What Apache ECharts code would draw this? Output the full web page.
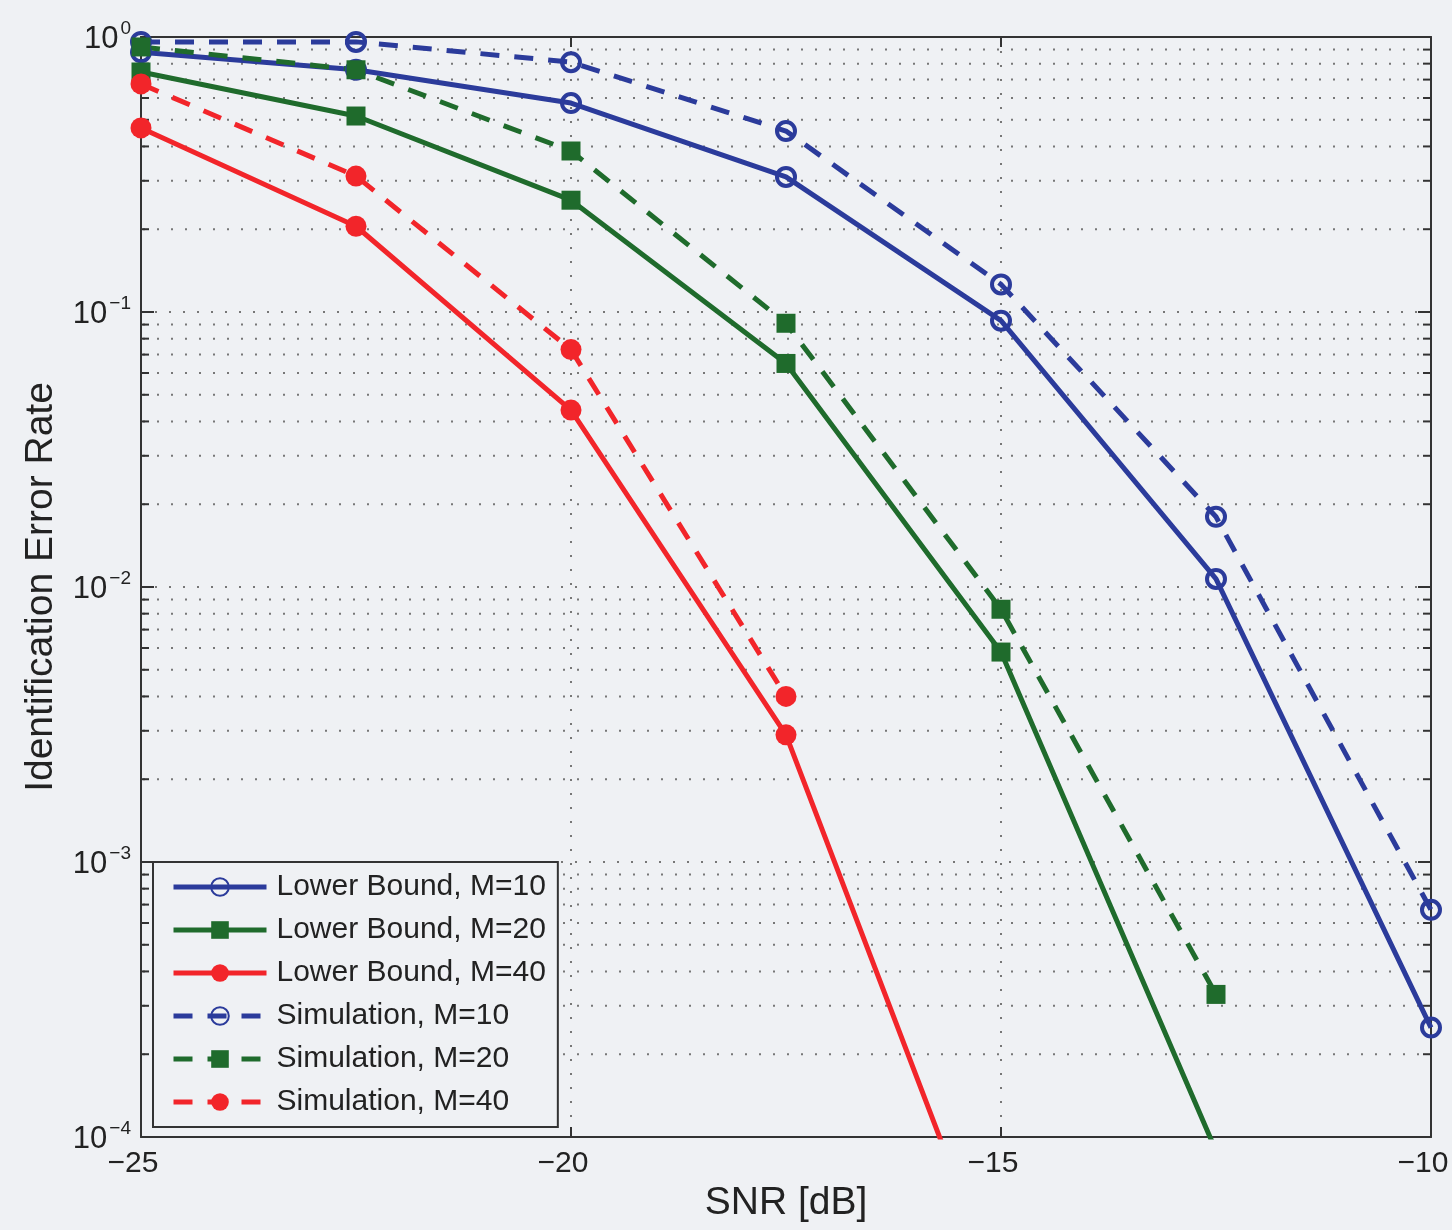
<!DOCTYPE html>
<html>
<head>
<meta charset="utf-8">
<script src="https://cdn.jsdelivr.net/npm/echarts@6/dist/echarts.min.js"></script>
<style>
html,body{margin:0;padding:0;background:#eff1f4;overflow:hidden;}
#chart{width:1452px;height:1230px;}
</style>
</head>
<body>
<div id="chart"></div>
<script>
// ---- data ----
const snr = [-25, -22.5, -20, -17.5, -15, -12.5, -10];
const lowerBoundM10 = [0.88, 0.76, 0.575, 0.31, 0.093, 0.0107, 2.5e-4];
const lowerBoundM20 = [0.746, 0.516, 0.255, 0.065, 0.0058, 8.9e-5, null];
const lowerBoundM40 = [0.467, 0.205, 0.044, 0.0029, 2.6e-5, null, null];
const simulationM10 = [0.96, 0.96, 0.81, 0.455, 0.126, 0.018, 6.7e-4];
const simulationM20 = [0.92, 0.76, 0.385, 0.091, 0.0083, 3.3e-4, null];
const simulationM40 = [0.675, 0.312, 0.073, 0.004, null, null, null];
const seriesNames = ['Lower Bound, M=10', 'Lower Bound, M=20', 'Lower Bound, M=40',
                     'Simulation, M=10', 'Simulation, M=20', 'Simulation, M=40'];
const xTicks = [-25, -20, -15, -10];
const yDecades = [1e-4, 1e-3, 1e-2, 1e-1, 1];
// minor grid values 2..9 x 10^k
const minorVals = [];
for (let k = -4; k < 0; k++) for (let m = 2; m <= 9; m++) minorVals.push(m * Math.pow(10, k));

const BG = '#eff1f4';
const BLUE = '#2b3b9b';
const GREEN = '#1f6b2c';
const RED = '#f2252a';
const AX = '#333';
const FONT = 'Liberation Sans, Arial, sans-serif';
const LW = 5;

function pairs(vals) { return snr.map((x, i) => [x, vals[i]]).filter(p => p[1] != null); }

function mkSeries(name, vals, color, dashed, symbol, hollow) {
  return {
    name: name, type: 'line', data: pairs(vals),
    symbol: symbol, symbolSize: hollow ? 18 : (symbol === 'rect' ? 19 : 21),
    showSymbol: true, clip: true, z: 5,
    lineStyle: { color: color, width: LW, type: dashed ? [19, 15] : 'solid' },
    itemStyle: hollow ? { color: 'rgba(0,0,0,0)', borderColor: color, borderWidth: 4 } : { color: color, borderWidth: 0 },
    emphasis: { disabled: true },
    animation: false
  };
}

function supLabel(v) {
  const e = Math.round(Math.log10(v));
  const s = e < 0 ? '\u2212' + (-e) : String(e);
  return '{b|10}{s|' + s + '}';
}

const chart = echarts.init(document.getElementById('chart'), null, { renderer: 'canvas' });
const option = {
  backgroundColor: BG,
  animation: false,
  textStyle: { fontFamily: FONT },
  grid: { left: 141, right: 21, top: 37, bottom: 93, containLabel: false, outerBoundsMode: 'none' },
  legend: {
    orient: 'vertical', left: 153, top: 862,
    data: seriesNames,
    itemWidth: 93, itemHeight: 22, itemGap: 13,
    padding: [10, 12, 10, 18],
    backgroundColor: BG, borderColor: AX, borderWidth: 2,
    lineStyle: { width: LW },
    textStyle: { fontSize: 30, color: '#222', fontFamily: FONT, lineHeight: 30, padding: [0, 0, 0, 5] },
    selectedMode: false
  },
  xAxis: [{
    type: 'value', min: -25, max: -10, interval: 5, position: 'bottom',
    name: 'SNR [dB]', nameLocation: 'middle', nameGap: 45,
    nameTextStyle: { fontSize: 39, color: '#222', fontFamily: FONT },
    axisLine: { show: true, lineStyle: { color: AX, width: 2 } },
    axisTick: { show: true, inside: true, length: 10, lineStyle: { color: AX, width: 2 } },
    axisLabel: { fontSize: 30, color: '#222', margin: 12, fontFamily: FONT, padding: [0, 16, 0, 0],
      formatter: v => v < 0 ? '\u2212' + (-v) : String(v) },
    splitLine: { show: true, lineStyle: { color: '#777', width: 2, type: [2, 12] } }
  }, {
    type: 'value', min: -25, max: -10, interval: 5, position: 'top',
    axisLine: { show: true, lineStyle: { color: AX, width: 2 } },
    axisTick: { show: true, inside: true, length: 10, lineStyle: { color: AX, width: 2 } },
    axisLabel: { show: false }, splitLine: { show: false }
  }],
  yAxis: [{
    type: 'log', logBase: 10, min: 1e-4, max: 1, position: 'left',
    name: 'Identification Error Rate', nameLocation: 'middle', nameGap: 80, nameRotate: 90,
    nameTextStyle: { fontSize: 39, color: '#222', fontFamily: FONT },
    axisLine: { show: true, lineStyle: { color: AX, width: 2 } },
    axisTick: { show: true, inside: true, length: 13, lineStyle: { color: AX, width: 2 } },
    axisLabel: {
      margin: 10, color: '#222', formatter: supLabel,
      rich: {
        b: { fontSize: 31, lineHeight: 36, verticalAlign: 'bottom', fontFamily: FONT, color: '#222' },
        s: { fontSize: 19, lineHeight: 20, verticalAlign: 'top', fontFamily: FONT, color: '#222', padding: [0, 0, 0, 2] }
      }
    },
    splitLine: { show: true, lineStyle: { color: '#777', width: 2, type: [2, 12] } }
  }, {
    type: 'log', logBase: 10, min: 1e-4, max: 1, position: 'right',
    axisLine: { show: true, lineStyle: { color: AX, width: 2 } },
    axisTick: { show: true, inside: true, length: 13, lineStyle: { color: AX, width: 2 } },
    axisLabel: { show: false }, splitLine: { show: false }
  }],
  series: [
    {
      type: 'custom', silent: true, z: 1, xAxisIndex: 0, yAxisIndex: 0,
      data: minorVals.map(v => [-25, v]),
      encode: { x: 0, y: 1 },
      renderItem: function (params, api) {
        const v = api.value(1);
        const p1 = api.coord([-25, v]);
        const p2 = api.coord([-10, v]);
        return {
          type: 'group',
          children: [
            { type: 'line', shape: { x1: p1[0] + 2, y1: p1[1], x2: p2[0] - 2, y2: p2[1] },
              style: { stroke: '#777', lineWidth: 2, lineDash: [2, 12] } },
            { type: 'line', shape: { x1: p1[0], y1: p1[1], x2: p1[0] + 8, y2: p1[1] },
              style: { stroke: AX, lineWidth: 2 } },
            { type: 'line', shape: { x1: p2[0] - 8, y1: p2[1], x2: p2[0], y2: p2[1] },
              style: { stroke: AX, lineWidth: 2 } }
          ]
        };
      },
      animation: false
    },
    mkSeries(seriesNames[0], lowerBoundM10, BLUE, false, 'circle', true),
    mkSeries(seriesNames[1], lowerBoundM20, GREEN, false, 'rect', false),
    mkSeries(seriesNames[2], lowerBoundM40, RED, false, 'circle', false),
    mkSeries(seriesNames[3], simulationM10, BLUE, true, 'circle', true),
    mkSeries(seriesNames[4], simulationM20, GREEN, true, 'rect', false),
    mkSeries(seriesNames[5], simulationM40, RED, true, 'circle', false)
  ]
};
chart.setOption(option);
</script>
</body>
</html>
